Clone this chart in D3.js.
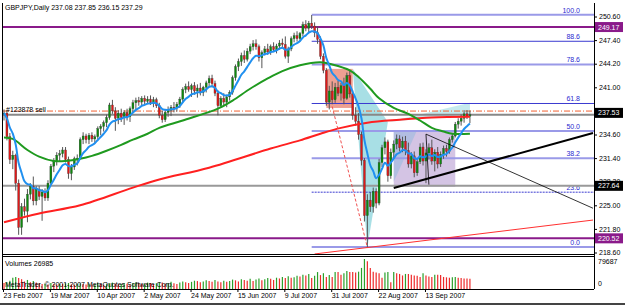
<!DOCTYPE html>
<meta charset="utf-8">
<style>
body { margin: 0; background: #fff; }
text { font: 7px "Liberation Sans", Arial, sans-serif; fill: #000; }
</style>
<svg width="625" height="305"></svg>
<script src="https://d3js.org/d3.v7.min.js"></script>
<script>

var title = "GBPJPY,Daily  237.08 237.85 236.15 237.29";

// one label every 16 bars
var dateLabels = ["23 Feb 2007", "19 Mar 2007", "10 Apr 2007", "2 May 2007", "24 May 2007",
  "15 Jun 2007", "9 Jul 2007", "31 Jul 2007", "22 Aug 2007", "13 Sep 2007"];

// 237.80 sits under the price box in the original, so it is left out
var priceTicks = [250.6, 247.4, 244.2, 241.0, 234.6, 231.4, 228.2, 225.0, 221.8, 218.6];

// [open, high, low, close]
var ohlc = [
  [237.4,238.0,236.5,237.5],[237.5,237.8,233.8,234.3],[234.3,234.8,230.6,231.2],[231.2,232.4,229.9,231.8],[231.8,232.0,227.0,228.0],
  [228.0,228.5,221.0,222.0],[222.0,225.3,221.0,224.8],[224.8,225.9,223.6,224.2],[224.2,227.2,222.7,226.5],[226.5,228.0,225.8,227.6],
  [227.6,228.9,225.0,225.6],[225.6,227.6,225.0,227.2],[227.2,227.6,225.7,226.2],[226.2,227.2,222.9,226.8],[226.8,227.3,225.6,226.0],
  [226.0,228.4,225.6,228.0],[228.0,230.6,227.8,230.3],[230.3,231.4,229.5,230.9],[230.9,232.2,230.4,231.8],[231.8,232.5,231.0,232.0],
  [232.0,232.9,231.5,232.5],[232.5,232.9,230.8,231.2],[231.2,231.6,228.6,229.3],[229.3,230.6,228.4,230.2],[230.2,231.6,229.8,231.3],
  [231.3,231.9,230.4,231.4],[231.4,234.2,231.2,233.9],[233.9,234.9,233.3,234.4],[234.4,234.7,233.4,233.9],[233.9,234.8,233.3,234.5],
  [234.5,234.9,233.6,234.0],[234.0,234.6,233.4,234.3],[234.3,235.7,234.0,235.4],[235.4,236.0,234.5,235.7],[235.7,236.5,235.0,236.2],
  [236.2,237.3,235.6,236.9],[236.9,238.9,236.6,238.6],[238.6,239.3,237.4,237.8],[237.8,238.3,235.1,236.8],[236.8,237.9,236.0,237.5],
  [237.5,238.1,236.3,236.9],[236.9,237.9,235.9,237.6],[237.6,238.1,236.5,237.0],[237.0,238.4,236.3,238.1],[238.1,239.3,237.6,238.9],
  [238.9,239.6,237.9,239.2],[239.2,239.7,238.5,239.0],[239.0,239.8,238.5,239.5],[239.5,239.9,238.6,239.1],[239.1,239.8,238.7,239.4],
  [239.4,239.9,238.6,238.9],[238.9,239.7,238.3,239.3],[239.3,239.6,238.2,238.5],[238.5,238.9,236.8,237.2],[237.2,237.8,236.2,236.6],
  [236.6,237.9,236.3,237.6],[237.6,238.4,237.0,237.9],[237.9,238.6,237.1,238.3],[238.3,239.0,237.6,238.2],[238.2,239.0,237.7,238.7],
  [238.7,239.7,238.2,239.4],[239.4,241.0,239.0,240.7],[240.7,241.5,240.2,241.1],[241.1,241.8,240.4,240.7],[240.7,241.5,239.7,241.2],
  [241.2,241.7,240.0,240.5],[240.5,241.4,239.6,240.9],[240.9,241.6,239.9,240.3],[240.3,241.2,239.8,241.0],[241.0,241.9,240.3,241.6],
  [241.6,242.6,241.1,242.2],[242.2,242.7,241.0,241.5],[241.5,241.9,239.8,240.2],[240.2,240.6,237.2,238.5],[238.5,239.8,238.2,239.5],
  [239.5,240.2,238.5,239.0],[239.0,240.0,238.3,239.7],[239.7,240.6,239.2,240.3],[240.3,242.6,240.0,242.3],[242.3,244.1,241.9,243.8],
  [243.8,244.9,243.2,244.5],[244.5,245.7,243.9,245.3],[245.3,246.0,244.3,244.8],[244.8,246.3,244.5,245.9],[245.9,246.9,245.5,246.5],
  [246.5,247.4,246.0,246.9],[246.9,247.5,246.1,246.5],[246.5,246.8,244.5,245.0],[245.0,246.0,243.6,245.7],[245.7,246.6,245.3,246.2],
  [246.2,246.9,245.4,245.8],[245.8,246.8,245.4,246.5],[246.5,247.1,245.9,246.1],[246.1,246.9,245.6,246.6],[246.6,247.4,246.1,247.0],
  [247.0,247.6,246.3,246.8],[246.8,247.9,244.9,245.2],[245.2,246.5,244.3,246.2],[246.2,247.9,245.9,247.6],[247.6,248.4,247.1,248.0],
  [248.0,248.6,247.2,247.6],[247.6,248.5,247.2,248.3],[248.3,249.9,247.9,249.5],[249.5,250.1,248.6,249.0],[249.0,250.0,248.4,249.7],
  [249.7,250.8,248.9,249.3],[249.3,249.8,247.8,248.4],[248.4,249.3,246.9,247.5],[247.5,247.9,244.8,245.2],[245.2,245.6,242.9,243.3],
  [243.3,243.6,238.5,239.0],[239.0,241.2,238.0,240.5],[240.5,241.8,238.7,239.3],[239.3,241.6,238.9,241.0],[241.0,241.9,239.8,240.2],
  [240.2,241.6,239.2,241.2],[241.2,242.3,238.7,239.5],[239.5,243.0,239.3,242.6],[242.6,243.3,239.6,240.1],[240.1,240.6,236.6,237.2],
  [237.2,238.3,235.8,236.4],[236.4,237.5,233.9,234.6],[234.6,235.0,230.4,231.1],[231.1,231.4,222.8,223.6],[223.6,226.5,219.2,225.7],
  [225.7,226.8,224.1,224.8],[224.8,227.4,224.0,226.9],[226.9,227.3,224.6,225.3],[225.3,231.3,225.0,230.8],[230.8,233.2,230.2,232.8],
  [232.8,234.2,231.9,233.6],[233.6,233.9,228.2,229.0],[229.0,232.7,228.6,232.2],[232.2,233.8,231.4,233.3],[233.3,234.6,232.6,234.0],
  [234.0,234.5,232.3,232.8],[232.8,234.3,232.2,233.7],[233.7,234.4,231.8,232.4],[232.4,233.5,230.1,230.6],[230.6,232.2,230.0,231.7],
  [231.7,232.3,228.8,229.4],[229.4,231.4,229.0,230.9],[230.9,233.4,230.6,232.9],[232.9,233.5,230.4,231.0],[231.0,232.6,228.0,232.1],
  [232.1,233.4,231.2,232.8],[232.8,233.9,230.5,231.0],[231.0,232.6,229.6,232.2],[232.2,232.9,230.0,230.6],[230.6,232.3,230.2,231.9],
  [231.9,233.1,231.3,232.7],[232.7,233.2,231.6,232.3],[232.3,234.2,232.0,233.9],[233.9,234.7,233.5,234.4],[234.4,236.3,234.2,236.0],
  [236.0,236.8,235.4,236.4],[236.4,237.3,235.8,236.8],[236.8,237.9,236.2,237.4],[237.4,237.9,236.7,237.08],[237.08,237.85,236.15,237.29]
];

var volumes = [
  16000,18000,22000,30000,32000,29000,26000,20000,24000,18000,
  21000,17000,15000,13000,14000,12000,16000,13000,12000,14000,
  13000,15000,16000,12000,11000,14000,15000,13000,12000,14000,
  12000,13000,16000,14000,11000,13000,15000,17000,14000,12000,
  13000,15000,14000,12000,16000,18000,15000,13000,14000,17000,
  16000,13000,15000,18000,17000,14000,16000,19000,15000,13000,
  17000,20000,18000,16000,19000,22000,21000,18000,20000,23000,
  21000,19000,24000,20000,18000,22000,19000,21000,25000,23000,
  20000,26000,24000,22000,27000,21000,25000,28000,23000,26000,
  29000,27000,24000,30000,28000,32000,29000,34000,30000,31000,
  35000,33000,38000,36000,40000,29000,35000,45000,37000,42000,
  32000,37000,32000,45000,45000,38000,42000,48000,45000,45000,
  44000,46000,56000,79687,74000,56000,46000,44000,42000,30000,
  44000,45000,18000,45000,42000,40000,36000,40000,40000,38000,
  36000,35000,32000,42000,36000,33000,32000,38000,38000,37000,
  32000,31000,30000,31000,32000,30000,29000,28000,28000,26985
];

// [bar, value]
var greenMA = [[0,234.2],[3,234.0],[8,232.5],[12,231.6],[17,231.0],[21,231.0],[26,231.3],[30,231.7],
  [35,232.4],[40,233.2],[44,233.9],[49,234.7],[53,235.5],[61,236.5],[73,238.1],[78,239.2],[84,240.8],
  [90,242.2],[95,243.2],[101,244.0],[108,244.4],[112,244.1],[118,243.3],[121,242.4],[125,240.8],
  [128,239.5],[133,238.2],[138,237.4],[142,236.5],[146,235.5],[150,235.0],[153,234.7],[159,234.7]];
var redMA = [[0,222.7],[12,223.9],[26,225.0],[44,227.4],[53,228.5],[70,230.1],[91,232.7],[101,233.8],
  [108,234.7],[115,235.5],[124,236.2],[135,236.6],[146,236.9],[159,237.0]];

var fibLevels = [100, 88.6, 78.6, 61.8, 50, 38.2, 23.6, 0];
var fibHigh = 250.83, fibLow = 219.35, fibStartBar = 105;

var svg = d3.select("svg"),
    width = +svg.attr("width"),
    height = +svg.attr("height");

var axisX = 594, chartTop = 3, chartBottom = 254, volTop = 257, volBottom = 289;

var x = d3.scaleLinear().domain([0, 201]).range([4, 593]);
var y = d3.scaleLinear().domain([218.6, 250.6]).range([252.5, 16.5]);
var vy = d3.scaleLinear().domain([0, 79687]).range([volBottom, 259]);

svg.append("rect").attr("width", width).attr("height", height).attr("fill", "#fff");

svg.append("clipPath").attr("id", "clip-main")
  .append("rect").attr("x", 3).attr("y", chartTop).attr("width", axisX - 3).attr("height", chartBottom - chartTop);

var plot = svg.append("g").attr("clip-path", "url(#clip-main)");

function pt(d) { return [x(d[0]), y(d[1])]; }

// background objects
plot.append("rect")
  .attr("x", x(110)).attr("y", y(243.5))
  .attr("width", x(119) - x(110)).attr("height", y(238.2) - y(243.5))
  .attr("fill", "#e8806e").attr("opacity", 0.75);

plot.append("rect")
  .attr("x", x(133)).attr("y", y(235.2))
  .attr("width", x(154) - x(133)).attr("height", y(227.5) - y(235.2))
  .attr("fill", "#d4c4e4");

var triangles = [
  {pts: [[119,243.5],[124,219.3],[131,236.3]], fill: "#9edbe2", op: 0.9},
  {pts: [[131,236.3],[159,238.9],[159,237.4]], fill: "#bfe8ec", op: 0.9},
  {pts: [[133,235.2],[141,235.2],[133,228.2]], fill: "#a9bde0", op: 0.8}
];
plot.selectAll(".tri").data(triangles).enter().append("path")
  .attr("class", "tri")
  .attr("d", function(d) { return "M" + d.pts.map(pt).join("L") + "Z"; })
  .attr("fill", function(d) { return d.fill; })
  .attr("opacity", function(d) { return d.op; });

// fibonacci levels
var fib = fibLevels.map(function(l) { return {l: l, v: fibLow + (fibHigh - fibLow) * l / 100}; });
plot.selectAll(".fib").data(fib).enter().append("line")
  .attr("x1", x(fibStartBar)).attr("x2", axisX)
  .attr("y1", function(d) { return y(d.v); }).attr("y2", function(d) { return y(d.v); })
  .attr("stroke", function(d) { return (d.l == 88.6 || d.l == 61.8 || d.l == 23.6) ? "#3a3ad0" : "#9a9ae8"; })
  .attr("stroke-width", function(d) { return (d.l == 88.6 || d.l == 61.8 || d.l == 23.6) ? 1 : 2; })
  .attr("stroke-dasharray", function(d) { return d.l == 23.6 ? "2,1" : null; });
plot.selectAll(".fibtext").data(fib).enter().append("text")
  .attr("x", 580).attr("y", function(d) { return y(d.v) - 2; })
  .attr("text-anchor", "end")
  .style("fill", "#2a2ad0")
  .text(function(d) { return d3.format(".1f")(d.l); });

// horizontal lines
var hLines = [
  {v: 249.17, color: "#8a1a8a", w: 2, dash: null},
  {v: 220.52, color: "#8a1a8a", w: 2, dash: null},
  {v: 237.29, color: "#888", w: 2, dash: null},
  {v: 227.64, color: "#999", w: 2, dash: null},
  {v: 237.78, color: "#f06030", w: 1, dash: "6,2,1,2"}
];
plot.selectAll(".hl").data(hLines).enter().append("line")
  .attr("x1", 3).attr("x2", axisX)
  .attr("y1", function(d) { return y(d.v); }).attr("y2", function(d) { return y(d.v); })
  .attr("stroke", function(d) { return d.color; })
  .attr("stroke-width", function(d) { return d.w; })
  .attr("stroke-dasharray", function(d) { return d.dash; });

plot.append("text").attr("x", 6).attr("y", y(237.78) + 1).text("#123878 sell");

// trend lines
var trends = [
  {pts: [[106,218.4],[201,223.0]], color: "#ff3030", w: 1, dash: null},
  {pts: [[112,238.4],[124,219.3]], color: "#f05050", w: 1, dash: "3,2"},
  {pts: [[133,227.35],[201,234.8]], color: "#000", w: 2, dash: null},
  {pts: [[144,234.65],[201,224.6]], color: "#000", w: 0.8, dash: null},
  {pts: [[144,234.65],[145,227.8]], color: "#000", w: 0.8, dash: null}
];

// candles
var bars = ohlc.map(function(d, i) { return {i: i, o: d[0], h: d[1], l: d[2], c: d[3]}; });
plot.selectAll(".wick").data(bars).enter().append("line")
  .attr("x1", function(d) { return x(d.i); }).attr("x2", function(d) { return x(d.i); })
  .attr("y1", function(d) { return y(d.h); }).attr("y2", function(d) { return y(d.l); })
  .attr("stroke", "#555").attr("stroke-width", 1);
plot.selectAll(".body").data(bars).enter().append("rect")
  .attr("x", function(d) { return x(d.i) - 1; })
  .attr("width", 2)
  .attr("y", function(d) { return y(Math.max(d.o, d.c)); })
  .attr("height", function(d) { return Math.max(1, Math.abs(y(d.o) - y(d.c))); })
  .attr("fill", function(d) { return d.c >= d.o ? "#0d8a0d" : "#e01818"; })
  .attr("stroke", "#333").attr("stroke-width", 0.3);

// moving averages
var line = d3.line().curve(d3.curveCatmullRom).x(function(d) { return x(d[0]); }).y(function(d) { return y(d[1]); });

plot.append("path").datum(redMA).attr("d", line)
  .attr("fill", "none").attr("stroke", "#ff2020").attr("stroke-width", 2);
plot.append("path").datum(greenMA).attr("d", line)
  .attr("fill", "none").attr("stroke", "#1f9a1f").attr("stroke-width", 2);

var k = 2 / 9, ema = [];
bars.forEach(function(d, i) { ema.push([i, i ? ema[i - 1][1] + k * (d.c - ema[i - 1][1]) : d.c]); });
plot.append("path").datum(ema).attr("d", line)
  .attr("fill", "none").attr("stroke", "#2090f0").attr("stroke-width", 2);

plot.selectAll(".trend").data(trends).enter().append("path")
  .attr("d", function(d) { return "M" + d.pts.map(pt).join("L"); })
  .attr("fill", "none")
  .attr("stroke", function(d) { return d.color; })
  .attr("stroke-width", function(d) { return d.w; })
  .attr("stroke-dasharray", function(d) { return d.dash; });

// volumes
svg.selectAll(".vol").data(volumes).enter().append("line")
  .attr("x1", function(d, i) { return x(i); }).attr("x2", function(d, i) { return x(i); })
  .attr("y1", volBottom).attr("y2", function(d) { return vy(d); })
  .attr("stroke", function(d, i) { return i && d > volumes[i - 1] ? "#2aa02a" : "#ee2a2a"; })
  .attr("stroke-width", 1.2);

// frame
var frame = svg.append("g").attr("stroke", "#000").attr("shape-rendering", "crispEdges");
frame.append("line").attr("x1", 2).attr("x2", 2).attr("y1", chartTop).attr("y2", volBottom);
frame.append("line").attr("x1", axisX).attr("x2", axisX).attr("y1", chartTop).attr("y2", volBottom);
frame.append("line").attr("x1", 2).attr("x2", axisX).attr("y1", chartBottom + 0.5).attr("y2", chartBottom + 0.5);
frame.append("line").attr("x1", 2).attr("x2", axisX).attr("y1", chartBottom + 2.5).attr("y2", chartBottom + 2.5);
frame.append("line").attr("x1", 2).attr("x2", axisX).attr("y1", volBottom).attr("y2", volBottom);
frame.append("line").attr("x1", 0).attr("x2", width).attr("y1", 303.5).attr("y2", 303.5).attr("stroke", "#444").attr("stroke-width", 2);

// price axis
var yAxis = svg.append("g").attr("transform", "translate(" + axisX + ",0)")
  .call(d3.axisRight(y).tickValues(priceTicks).tickSize(3).tickPadding(2).tickFormat(d3.format(".2f")));
yAxis.select(".domain").remove();
yAxis.selectAll("text").style("font", "7px 'Liberation Sans', Arial, sans-serif");

var priceBoxes = [
  {v: 249.17, fill: "#8a1a8a"},
  {v: 237.53, fill: "#000"},
  {v: 227.64, fill: "#000"},
  {v: 220.52, fill: "#8a1a8a"}
];
var boxes = svg.selectAll(".pbox").data(priceBoxes).enter().append("g")
  .attr("transform", function(d) { return "translate(" + (axisX + 1) + "," + y(d.v) + ")"; });
boxes.append("rect").attr("x", 0).attr("y", -5).attr("width", 28).attr("height", 10)
  .attr("fill", function(d) { return d.fill; });
boxes.append("text").attr("x", 3).attr("y", 2.5).style("fill", "#fff")
  .text(function(d) { return d3.format(".2f")(d.v); });

// volume axis labels
svg.append("text").attr("x", axisX + 4).attr("y", 264).text("79687");
svg.append("text").attr("x", axisX + 4).attr("y", 286).text("0");

// date axis
var xAxis = svg.append("g").attr("transform", "translate(-1," + volBottom + ")")
  .call(d3.axisBottom(x).tickValues(d3.range(0, 160, 16)).tickSize(3).tickPadding(1)
    .tickFormat(function(d) { return dateLabels[d / 16]; }));
xAxis.select(".domain").remove();
xAxis.selectAll("text").attr("text-anchor", "start").attr("dx", 0)
  .style("font", "7px 'Liberation Sans', Arial, sans-serif");

// texts
svg.append("text").attr("x", 5).attr("y", 10).text(title);
svg.append("text").attr("x", 5).attr("y", 266).text("Volumes 26985");
svg.append("text").attr("x", 5).attr("y", 287).text("MetaTrader, \u00a9 2001-2007 MetaQuotes Software Corp.");

</script>
